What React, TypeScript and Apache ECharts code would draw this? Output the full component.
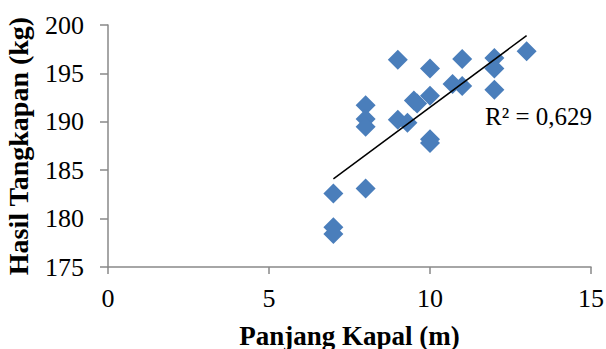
import React, { useEffect, useRef } from "react";
import * as echarts from "echarts";

const panjangKapal = [7, 7, 7, 8, 8, 8, 8, 9, 9, 9.3, 9.5, 9.6, 10, 10, 10, 10, 10.7, 11, 11, 12, 12, 12, 13];
const hasilTangkapan = [182.6, 179.1, 178.4, 183.1, 191.7, 190.3, 189.5, 196.4, 190.2, 189.9, 192.2, 191.9, 195.5, 192.7, 188.2, 187.8, 193.9, 196.5, 193.7, 196.6, 195.5, 193.3, 197.3];
const trendX = [7, 13];
const trendY = [184.1, 198.9];
const xTicks = [0, 15, 5];
const yTicks = [175, 200, 5];
const r2Label = "R² = 0,629";

export default function App() {
  const ref = useRef<HTMLDivElement>(null);
  useEffect(() => {
    if (!ref.current) return;
    document.body.style.margin = "0";
    const chart = echarts.init(ref.current, undefined, { renderer: "svg" });
    const font = "'Liberation Serif', 'Times New Roman', serif";
    chart.setOption({
      animation: false,
      grid: { left: 108, right: 15, top: 25, bottom: 82, containLabel: false, outerBoundsMode: "none" },
      xAxis: {
        type: "value",
        min: xTicks[0],
        max: xTicks[1],
        interval: xTicks[2],
        name: "Panjang Kapal (m)",
        nameLocation: "middle",
        nameGap: 55,
        nameTextStyle: { fontFamily: font, fontSize: 27, fontWeight: "bold", color: "#000" },
        axisLine: { lineStyle: { color: "#898989", width: 1.5 } },
        axisTick: { show: true, length: 7, lineStyle: { color: "#898989", width: 1.5 } },
        axisLabel: { fontFamily: font, fontSize: 26, color: "#000", margin: 18 },
        splitLine: { show: false },
      },
      yAxis: {
        type: "value",
        min: yTicks[0],
        max: yTicks[1],
        interval: yTicks[2],
        name: "Hasil Tangkapan (kg)",
        nameLocation: "middle",
        nameGap: 76,
        nameTextStyle: { fontFamily: font, fontSize: 28, fontWeight: "bold", color: "#000" },
        axisLine: { show: true, lineStyle: { color: "#898989", width: 1.5 } },
        axisTick: { show: true, length: 8, lineStyle: { color: "#898989", width: 1.5 } },
        axisLabel: { fontFamily: font, fontSize: 26, color: "#000", margin: 24 },
        splitLine: { show: false },
      },
      series: [
        {
          type: "scatter",
          symbol: "diamond",
          symbolSize: 20,
          itemStyle: { color: "#4a7ebb", opacity: 1 },
          data: panjangKapal.map((x, i) => [x, hasilTangkapan[i]]),
          z: 2,
        },
        {
          type: "line",
          data: trendX.map((x, i) => [x, trendY[i]]),
          symbol: "none",
          lineStyle: { color: "#000", width: 1.5 },
          z: 3,
        },
      ],
      graphic: [
        {
          type: "text",
          left: 485,
          top: 104,
          style: { text: r2Label, fontFamily: font, fontSize: 25, fill: "#000" },
        },
      ],
    });
    return () => chart.dispose();
  }, []);
  return <div ref={ref} style={{ width: 606, height: 349 }} />;
}
